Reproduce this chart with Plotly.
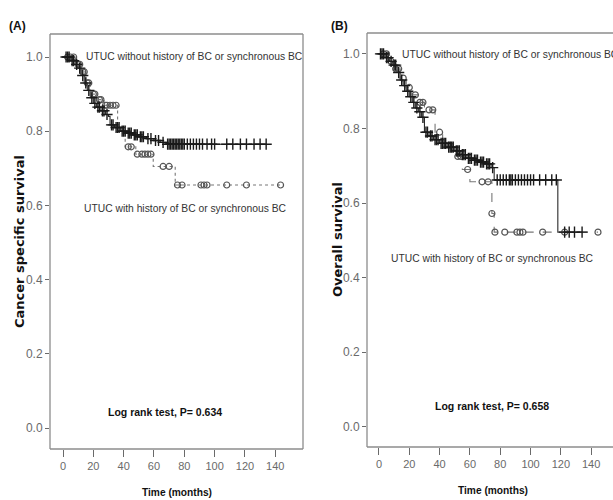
import plotly.graph_objects as go

# ---------------- data ----------------
# Panel A: cancer specific survival
a_noh_time = [0, 5, 8, 10, 12, 14, 16, 18, 20, 22, 25, 28, 30, 31, 34, 38, 42, 46, 50, 55, 60, 64, 68, 134]
a_noh_surv = [1.0, 0.99, 0.98, 0.97, 0.95, 0.93, 0.91, 0.89, 0.875, 0.865, 0.855, 0.845, 0.84, 0.817, 0.81, 0.80, 0.795, 0.79, 0.785, 0.78, 0.775, 0.77, 0.765, 0.765]
a_noh_cens = [2, 3, 4, 6, 7, 9, 11, 13, 15, 17, 19, 21, 23, 24, 26, 27, 29, 32, 33, 35, 36, 37, 39, 40, 41, 43, 44, 45,
              47, 48, 49, 51, 52, 53, 56, 58, 61, 63, 66, 69, 70, 71, 72, 73, 74, 75, 76, 77, 78, 79, 80, 82, 84, 86, 88,
              90, 92, 95, 98, 100, 108, 112, 117, 121, 126, 130, 134]

a_his_time = [0, 8, 12, 15, 18, 22, 27, 36, 41, 48, 59.5, 74, 143.5]
a_his_surv = [1.0, 0.98, 0.96, 0.93, 0.90, 0.885, 0.87, 0.80, 0.758, 0.738, 0.705, 0.655, 0.655]
a_his_cens = [3, 5, 7, 10, 11, 13, 14, 16, 17, 20, 21, 24, 25, 28, 29, 31, 33, 35, 43, 45, 49, 52, 54, 56, 58,
              66, 70, 75.5, 78.5, 91, 93, 95, 108, 121, 143.5]

# Panel B: overall survival
b_noh_time = [0, 4, 7, 9, 12, 14, 16, 18, 20, 22, 24, 26, 28, 30, 33, 36, 40, 45, 50, 54, 58, 62, 66, 70, 74, 76, 118, 134]
b_noh_surv = [1.0, 0.99, 0.98, 0.97, 0.95, 0.93, 0.915, 0.90, 0.885, 0.87, 0.855, 0.845, 0.83, 0.79, 0.78, 0.77, 0.76,
              0.75, 0.74, 0.73, 0.72, 0.715, 0.71, 0.705, 0.695, 0.662, 0.522, 0.522]
b_noh_cens = [1, 2, 3, 5, 6, 8, 10, 11, 13, 15, 17, 19, 21, 23, 25, 27, 29, 31, 32, 34, 35, 37, 38, 39, 41, 42, 43, 44,
              46, 47, 48, 49, 51, 52, 53, 55, 56, 57, 59, 60, 61, 63, 64, 65, 67, 68, 69, 71, 72, 73, 75, 78, 80, 82,
              84, 86, 87, 88, 90, 92, 94, 96, 98, 100, 102, 106, 110, 114, 117, 122.5, 125.5, 129, 134]

b_his_time = [0, 6, 10, 14, 18, 22, 26, 30, 37, 42, 48, 55, 60, 74.5, 76, 144.5]
b_his_surv = [1.0, 0.98, 0.96, 0.935, 0.91, 0.89, 0.87, 0.85, 0.79, 0.755, 0.725, 0.69, 0.657, 0.572, 0.522, 0.522]
b_his_cens = [3, 5, 8, 11, 13, 16, 20, 24, 27, 29, 33, 35.5, 40, 45.5, 47, 52, 54, 58.5, 68, 72, 74.5, 76.5, 83,
              91, 93, 95, 108, 122.5, 144.5]

x_ticks = [0, 20, 40, 60, 80, 100, 120, 140]
y_ticks = [0.0, 0.2, 0.4, 0.6, 0.8, 1.0]

labels_A = ["UTUC without history of BC or synchronous BC", "UTUC with history of BC or synchronous BC",
            "Log rank test, P= 0.634", "Cancer specific survival", "(A)"]
labels_B = ["UTUC without history of BC or synchronous BC", "UTUC with history of BC or synchronous BC",
            "Log rank test, P= 0.658", "Overall survival", "(B)"]
x_title = "Time (months)"


def step_val(times, survs, t):
    v = survs[0]
    for ti, si in zip(times, survs):
        if ti <= t:
            v = si
    return v


NARROW = "Liberation Sans Narrow, Arial Narrow, Liberation Sans, Arial, sans-serif"
WIDEB = "DejaVu Sans, Verdana, sans-serif"
TICKC = "#6a6a6a"
FRAMEC = "#8c8c8c"

fig = go.Figure()


def add_panel(xa, ya, t1, s1, c1, t2, s2, c2, dash2):
    fig.add_trace(go.Scatter(x=t1, y=s1, mode="lines", line=dict(shape="hv", color="#2a2a2a", width=1.1),
                             xaxis=xa, yaxis=ya, showlegend=False, hoverinfo="skip"))
    fig.add_trace(go.Scatter(x=t2, y=s2, mode="lines", line=dict(shape="hv", color="#777777", width=1.1, dash=dash2),
                             xaxis=xa, yaxis=ya, showlegend=False, hoverinfo="skip"))
    fig.add_trace(go.Scatter(x=c2, y=[step_val(t2, s2, t) for t in c2], mode="markers",
                             marker=dict(symbol="circle-open", size=6, color="#555555", line=dict(width=1.2)),
                             xaxis=xa, yaxis=ya, showlegend=False, hoverinfo="skip"))
    fig.add_trace(go.Scatter(x=c1, y=[step_val(t1, s1, t) for t in c1], mode="markers",
                             marker=dict(symbol="cross-thin", size=8, color="#1a1a1a", line=dict(width=1.4, color="#1a1a1a")),
                             xaxis=xa, yaxis=ya, showlegend=False, hoverinfo="skip"))


add_panel("x", "y", a_noh_time, a_noh_surv, a_noh_cens, a_his_time, a_his_surv, a_his_cens, "dot")
add_panel("x2", "y2", b_noh_time, b_noh_surv, b_noh_cens, b_his_time, b_his_surv, b_his_cens, "dash")

W, H = 613, 500
axis_common = dict(showgrid=False, zeroline=False, showline=False, ticks="outside", tickcolor=TICKC)
yfont = dict(family=NARROW, size=12, color=TICKC)
xfont = dict(family=NARROW, size=11, color=TICKC)

fig.update_layout(
    width=W, height=H, margin=dict(l=0, r=0, t=0, b=0),
    paper_bgcolor="white", plot_bgcolor="white",
    xaxis=dict(domain=[50 / W, 303 / W], range=[-8.6, 158.3], tickvals=x_ticks, ticklen=7, tickwidth=1.2,
               anchor="y", tickfont=xfont, **axis_common),
    yaxis=dict(domain=[(H - 449) / H, (H - 34) / H], range=[-0.0566, 1.062], tickvals=y_ticks, tickformat=".1f",
               ticklen=4, anchor="x", tickfont=yfont, **axis_common),
    xaxis2=dict(domain=[367 / W, 1.0], range=[-7.9, 154.4], tickvals=x_ticks, ticklen=7, tickwidth=1.2,
                anchor="y2", tickfont=xfont, **axis_common),
    yaxis2=dict(domain=[(H - 447) / H, (H - 33) / H], range=[-0.054, 1.056], tickvals=y_ticks, tickformat=".1f",
                ticklen=4, anchor="x2", tickfont=yfont, **axis_common),
)

shapes = []
for xr, yr, right in [("x domain", "y domain", True), ("x2 domain", "y2 domain", False)]:
    shapes.append(dict(type="line", xref=xr, yref=yr, x0=0, x1=1, y0=0, y1=0, line=dict(color=FRAMEC, width=1.3)))
    shapes.append(dict(type="line", xref=xr, yref=yr, x0=0, x1=1, y0=1, y1=1, line=dict(color=FRAMEC, width=1.3)))
    shapes.append(dict(type="line", xref=xr, yref=yr, x0=0, x1=0, y0=0, y1=1, line=dict(color=FRAMEC, width=1.3)))
    if right:
        shapes.append(dict(type="line", xref=xr, yref=yr, x0=1, x1=1, y0=0, y1=1, line=dict(color=FRAMEC, width=1.3)))
fig.update_layout(shapes=shapes)

ann = []
def txt(x, y, s, size=12, bold=False, angle=0, color="#2b2b2b", xanchor="left", family=NARROW):
    ann.append(dict(x=x / W, y=1 - y / H, xref="paper", yref="paper", text=("<b>%s</b>" % s) if bold else s,
                    showarrow=False, xanchor=xanchor, yanchor="middle", textangle=angle,
                    font=dict(family=family, size=size, color=color)))

# Panel A texts
txt(84, 57, labels_A[0], size=10.3, color="#333333")
txt(82, 209, labels_A[1], size=10.3, color="#333333")
txt(165, 412, labels_A[2], size=10.5, bold=True, color="#111111", xanchor="center")
txt(19, 242, labels_A[3], size=13, bold=True, angle=-90, color="#111111", xanchor="center", family=WIDEB)
txt(7, 26, labels_A[4], size=12, bold=True, color="#111111")
txt(177, 492, x_title, size=10.2, bold=True, color="#111111", xanchor="center")

# Panel B texts
txt(400, 55, labels_B[0], size=10.3, color="#333333")
txt(389, 258, labels_B[1], size=10.3, color="#333333")
txt(492, 406, labels_B[2], size=10.5, bold=True, color="#111111", xanchor="center")
txt(337, 240, labels_B[3], size=13, bold=True, angle=-90, color="#111111", xanchor="center", family=WIDEB)
txt(329, 26, labels_B[4], size=12, bold=True, color="#111111")
txt(493, 490, x_title, size=10.2, bold=True, color="#111111", xanchor="center")

fig.update_layout(annotations=ann)
fig.write_html("out.html", config={"displayModeBar": False},
               post_script="document.body.style.margin='0px';document.body.style.overflow='hidden';")
